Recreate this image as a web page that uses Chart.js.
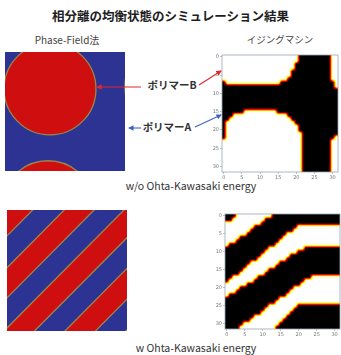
<!DOCTYPE html>
<html lang="ja">
<head>
<meta charset="utf-8">
<title>相分離の均衡状態のシミュレーション結果</title>
<script src="https://cdn.jsdelivr.net/npm/chart.js@4.4.1/dist/chart.umd.min.js"></script>
<style>
  html, body { margin: 0; padding: 0; background: #fff; }
  body { position: relative; width: 341px; height: 355px; overflow: hidden;
         font-family: "Noto Sans CJK JP", "Noto Sans", sans-serif; color: #333; }
  .txt { position: absolute; white-space: nowrap; line-height: 1; text-align: center; }
  canvas, svg { position: absolute; }
</style>
</head>
<body>
<div class="txt" style="left:0;width:341px;top:10px;font-size:12.5px;font-weight:bold;color:#1e1e1e">相分離の均衡状態のシミュレーション結果</div>
<div class="txt" style="left:17px;width:100px;top:35px;font-size:10px;color:#444">Phase-Field法</div>
<div class="txt" style="left:230px;width:100px;top:35px;font-size:9.5px;color:#444">イジングマシン</div>
<div class="txt" style="left:132px;width:80px;top:80px;font-size:10.5px;font-weight:bold;color:#333">ポリマーB</div>
<div class="txt" style="left:127px;width:80px;top:122px;font-size:10.5px;font-weight:bold;color:#333">ポリマーA</div>
<div class="txt" style="left:91px;width:200px;top:181px;font-size:10.5px;color:#333">w/o Ohta-Kawasaki energy</div>
<div class="txt" style="left:96px;width:200px;top:343px;font-size:10.5px;color:#333">w Ohta-Kawasaki energy</div>

<canvas id="pfPlain" width="120" height="119" style="left:5px;top:52px"></canvas>
<canvas id="pfOK" width="120" height="121" style="left:7px;top:210px"></canvas>
<canvas id="isPlain" width="135" height="134" style="left:206px;top:50px"></canvas>
<canvas id="isOK" width="132" height="132" style="left:209px;top:209px"></canvas>

<svg width="341" height="355" style="left:0;top:0" xmlns="http://www.w3.org/2000/svg">
  <defs>
    <marker id="hr" viewBox="0 0 6 6" refX="5" refY="3" markerWidth="5" markerHeight="5" orient="auto"><path d="M0,0 L6,3 L0,6 z" fill="#e3262b"/></marker>
    <marker id="hb" viewBox="0 0 6 6" refX="5" refY="3" markerWidth="5" markerHeight="5" orient="auto"><path d="M0,0 L6,3 L0,6 z" fill="#3f63c4"/></marker>
  </defs>
  <line x1="141" y1="87" x2="97" y2="87" stroke="#e3262b" stroke-width="1.1" marker-end="url(#hr)"/>
  <line x1="199" y1="85" x2="221" y2="71" stroke="#e3262b" stroke-width="1.1" marker-end="url(#hr)"/>
  <line x1="141" y1="128" x2="129" y2="128" stroke="#3f63c4" stroke-width="1.1" marker-end="url(#hb)"/>
  <line x1="195" y1="127" x2="221" y2="115" stroke="#3f63c4" stroke-width="1.1" marker-end="url(#hb)"/>
</svg>

<script>
// ---------------- data ----------------
// lattice size of the Ising-machine result and its axis ticks
const GRID_N = 32;
const AXIS_TICKS = [0, 5, 10, 15, 20, 25, 30];

// Phase-field result without the Ohta-Kawasaki term:
// droplets of polymer B in polymer A (centre x, centre y, radius; domain 0..100)
const DROPLETS = [
  { x: 37.5,  y: 31,  r: 38.3 },
  { x: 138.2, y: 29,  r: 38.3 },
  { x: 35.8,  y: 130, r: 38.3 }
];

// Phase-field result with the Ohta-Kawasaki term:
// lamellar interfaces, each the line x + y = s (domain 0..100)
const LAMELLA_EDGES = [21.4, 47.7, 72.6, 97.5, 122.9, 148.3, 173.7, 199.1];

// Ising-machine spins, one row per line of the lattice, written as run
// lengths that alternate down (0) / up (1), always starting with down.
const SPINS_PLAIN = [
  [0, 21, 9, 2], [0, 21, 9, 2], [0, 20, 10, 2], [0, 20, 10, 2],
  [0, 19, 11, 2], [0, 19, 11, 2], [0, 18, 12, 2], [1, 15, 15, 1],
  [31, 1], [32], [32], [32], [32], [32], [32],
  [6, 9, 17], [3, 15, 14], [2, 17, 13], [1, 19, 12], [1, 20, 11], [1, 20, 11],
  [1, 21, 10], [1, 21, 9, 1], [0, 22, 8, 2], [0, 22, 8, 2], [0, 22, 8, 2],
  [0, 22, 8, 2], [0, 22, 8, 2], [0, 22, 8, 2], [0, 22, 8, 2], [0, 22, 8, 2],
  [0, 22, 8, 2]
];
const SPINS_OK = [
  [3, 10, 19], [2, 9, 21], [0, 10, 22], [0, 8, 12, 12],
  [0, 7, 12, 13], [0, 6, 11, 15], [0, 4, 12, 16], [0, 3, 12, 17],
  [0, 1, 13, 18], [12, 10, 10], [11, 9, 12], [10, 8, 14],
  [9, 8, 15], [7, 8, 17], [6, 8, 18], [5, 7, 20],
  [4, 7, 21], [2, 7, 15, 8], [1, 7, 14, 10], [0, 6, 15, 11],
  [0, 4, 15, 13], [0, 3, 15, 14], [0, 1, 16, 15], [15, 17],
  [14, 18], [12, 8, 12], [11, 8, 13], [10, 8, 14],
  [8, 9, 15], [7, 9, 16], [5, 10, 17], [4, 10, 18]
];

// ---------------- styles ----------------
const RED = '#cf0e10';
const BLUE = '#2c3392';
const EDGE = '#9a864c';

// ---------------- helpers ----------------
function cellsFromRuns(rows) {
  const cells = [];
  rows.forEach((runs, r) => {
    let c = 0;
    runs.forEach((n, k) => {
      for (let i = 0; i < n; i++) cells.push({ x: c++, y: r, v: k % 2 });
    });
  });
  return cells;
}

// fills the plotting area with a flat colour (matrix phase)
const areaFill = {
  id: 'areaFill',
  beforeDatasetsDraw(chart, args, opts) {
    const a = chart.chartArea, ctx = chart.ctx;
    ctx.save();
    ctx.fillStyle = opts.color;
    ctx.fillRect(a.left, a.top, a.right - a.left, a.bottom - a.top);
    ctx.restore();
  }
};

// 'hot' colour map
function hot(g) {
  const cl = v => Math.max(0, Math.min(1, v));
  return [cl(g / 0.365), cl((g - 0.365) / 0.381), cl((g - 0.746) / 0.254)].map(v => Math.round(v * 255));
}

// paints the spin lattice as an interpolated image placed by the scales
const spinImage = {
  id: 'spinImage',
  beforeDatasetsDraw(chart) {
    const cells = chart.data.datasets[0].data;
    const m = [];
    for (let r = 0; r < GRID_N; r++) m.push(new Array(GRID_N).fill(0));
    cells.forEach(p => { m[p.y][p.x] = p.v; });

    const xs = chart.scales.x, ys = chart.scales.y;
    const px0 = xs.getPixelForValue(-0.5), px1 = xs.getPixelForValue(GRID_N - 0.5);
    const py0 = ys.getPixelForValue(-0.5), py1 = ys.getPixelForValue(GRID_N - 0.5);
    const left = Math.round(Math.min(px0, px1)), top = Math.round(Math.min(py0, py1));
    const w = Math.round(Math.abs(px1 - px0)), h = Math.round(Math.abs(py1 - py0));

    const P = GRID_N + 2;
    const src = document.createElement('canvas');
    src.width = P; src.height = P;
    const sctx = src.getContext('2d');
    const img = sctx.createImageData(P, P);
    const cl = i => Math.max(0, Math.min(GRID_N - 1, i));
    for (let r = 0; r < P; r++) {
      for (let c = 0; c < P; c++) {
        const g = m[cl(r - 1)][cl(c - 1)] * 255;
        const o = (r * P + c) * 4;
        img.data[o] = g; img.data[o + 1] = g; img.data[o + 2] = g; img.data[o + 3] = 255;
      }
    }
    sctx.putImageData(img, 0, 0);

    const up = document.createElement('canvas');
    up.width = w; up.height = h;
    const uctx = up.getContext('2d');
    uctx.imageSmoothingEnabled = true;
    uctx.drawImage(src, 1, 1, GRID_N, GRID_N, 0, 0, w, h);
    const d = uctx.getImageData(0, 0, w, h);
    for (let i = 0; i < d.data.length; i += 4) {
      const [r, g, b] = hot(d.data[i] / 255);
      d.data[i] = r; d.data[i + 1] = g; d.data[i + 2] = b; d.data[i + 3] = 255;
    }
    uctx.putImageData(d, 0, 0);
    chart.ctx.drawImage(up, left, top);
  },
  afterDatasetsDraw(chart) {
    const a = chart.chartArea, ctx = chart.ctx;
    ctx.save();
    ctx.strokeStyle = '#9aa5b6';
    ctx.lineWidth = 0.8;
    ctx.strokeRect(a.left, a.top, a.right - a.left, a.bottom - a.top);
    ctx.restore();
  }
};

const BASE = {
  responsive: false,
  animation: false,
  events: [],
  devicePixelRatio: 1,
  plugins: { legend: { display: false }, tooltip: { enabled: false } }
};

const hiddenScales = {
  x: { type: 'linear', min: 0, max: 100, display: false },
  y: { type: 'linear', min: 0, max: 100, reverse: true, display: false }
};

// ---------------- phase-field: droplets ----------------
new Chart(document.getElementById('pfPlain'), {
  type: 'scatter',
  data: {
    datasets: [{
      data: DROPLETS,
      pointRadius: ctx => {
        const x = ctx.chart.scales.x;
        return Math.abs(x.getPixelForValue(ctx.raw.r) - x.getPixelForValue(0));
      },
      pointBackgroundColor: RED,
      pointBorderColor: EDGE,
      pointBorderWidth: 1.3,
      clip: 0
    }]
  },
  options: Object.assign({}, BASE, {
    layout: { padding: 0 },
    scales: hiddenScales,
    plugins: Object.assign({}, BASE.plugins, { areaFill: { color: BLUE } })
  }),
  plugins: [areaFill]
});

// ---------------- phase-field: lamellae ----------------
new Chart(document.getElementById('pfOK'), {
  type: 'scatter',
  data: {
    datasets: LAMELLA_EDGES.map((s, k) => ({
      data: [{ x: -150, y: s + 150 }, { x: 250, y: s - 250 }],
      showLine: true,
      pointRadius: 0,
      borderColor: EDGE,
      borderWidth: 1.3,
      backgroundColor: k % 2 === 0 ? RED : BLUE,
      fill: 'end',
      clip: 0
    }))
  },
  options: Object.assign({}, BASE, {
    layout: { padding: 0 },
    scales: hiddenScales,
    plugins: Object.assign({}, BASE.plugins, { areaFill: { color: RED } })
  }),
  plugins: [areaFill]
});

// ---------------- Ising machine lattices ----------------
function latticeChart(id, rows, padRight) {
  const tickOpts = {
    font: { size: 5, family: 'DejaVu Sans' },
    color: '#777',
    padding: 1,
    autoSkip: false,
    maxRotation: 0
  };
  const gridOpts = { drawOnChartArea: false, drawTicks: true, tickLength: 2, color: '#999', lineWidth: 0.6 };
  const setTicks = s => { s.ticks = AXIS_TICKS.map(v => ({ value: v })); };
  new Chart(document.getElementById(id), {
    type: 'scatter',
    data: { datasets: [{ data: cellsFromRuns(rows), pointRadius: 0 }] },
    options: Object.assign({}, BASE, {
      layout: { padding: { top: 5, right: padRight, left: 0, bottom: 0 } },
      scales: {
        x: {
          type: 'linear', min: -0.5, max: GRID_N - 0.5,
          afterBuildTicks: setTicks,
          afterFit: s => { s.height = 12; },
          grid: gridOpts, border: { display: false }, ticks: tickOpts
        },
        y: {
          type: 'linear', min: -0.5, max: GRID_N - 0.5, reverse: true,
          afterBuildTicks: setTicks,
          afterFit: s => { s.width = 16; },
          grid: gridOpts, border: { display: false }, ticks: tickOpts
        }
      }
    }),
    plugins: [spinImage]
  });
}

latticeChart('isPlain', SPINS_PLAIN, 3);
latticeChart('isOK', SPINS_OK, 1);
</script>
</body>
</html>
